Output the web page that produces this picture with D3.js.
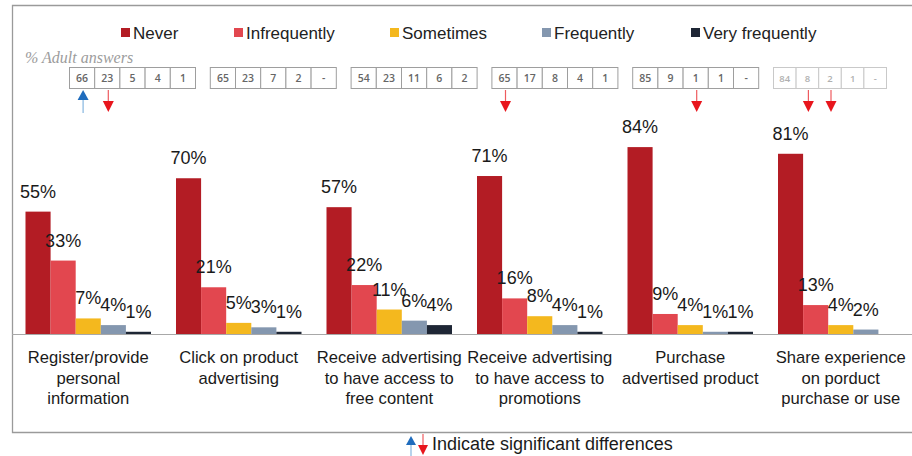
<!DOCTYPE html>
<html><head><meta charset="utf-8">
<script src="https://cdn.jsdelivr.net/npm/d3@7"></script>
<style>
html,body{margin:0;padding:0;background:#fff;}
svg{display:block;font-family:"Liberation Sans",Arial,sans-serif;}
</style></head>
<body><svg id="c" width="912" height="456"></svg>
<script>
const categories = [
  ["Register/provide","personal","information"],
  ["Click on product","advertising"],
  ["Receive advertising","to have access to","free content"],
  ["Receive advertising","to have access to","promotions"],
  ["Purchase","advertised product"],
  ["Share experience","on porduct","purchase or use"]
];
const seriesNames = ["Never","Infrequently","Sometimes","Frequently","Very frequently"];
const never        = [55, 70, 57, 71, 84, 81];
const infrequently = [33, 21, 22, 16, 9, 13];
const sometimes    = [7, 5, 11, 8, 4, 4];
const frequently   = [4, 3, 6, 4, 1, 2];
const veryFreq     = [1, 1, 4, 1, 1, null];
const seriesValues = [never, infrequently, sometimes, frequently, veryFreq];
const colors = ["#B31C24","#E2474F","#F4B81E","#8497AF","#1E2635"];

// Adult answers table
const adultAnswers = [
  ["66","23","5","4","1"],
  ["65","23","7","2","-"],
  ["54","23","11","6","2"],
  ["65","17","8","4","1"],
  ["85","9","1","1","-"],
  ["84","8","2","1","-"]
];
// significant differences: [group, cell, direction]
const sigMarks = [[0,0,"up"],[0,1,"down"],[3,0,"down"],[4,2,"down"],[5,1,"down"],[5,2,"down"]];

const svg = d3.select("#c");
const catIdx = d3.range(categories.length);
const x = d3.scaleBand().domain(catIdx).range([13, 916]).paddingInner(0.1661).paddingOuter(0.083);
const xs = d3.scaleBand().domain(seriesNames).range([0, x.bandwidth()]);
const y = d3.scaleLinear().domain([0, 100]).range([334, 111.5]);

// frame
svg.append("path").attr("d","M912,5.5H12.5V432.5H912").attr("fill","none").attr("stroke","#9a9a9a").attr("stroke-width",1.3);
// baseline axis
const xAxis = d3.axisBottom(x).tickSize(0).tickFormat("");
svg.append("g").attr("transform","translate(0,334)").call(xAxis)
  .call(g=>g.select(".domain").attr("d","M12,0.5H912").attr("stroke","#a8a8a8").attr("stroke-width",1.2));

// legend
const legX = [121, 234, 390, 542, 691];
const leg = svg.append("g");
seriesNames.forEach((s,i)=>{
  const g = leg.append("g").attr("transform",`translate(${legX[i]},0)`);
  g.append("rect").attr("x",0).attr("y",28).attr("width",9).attr("height",9).attr("fill",colors[i]);
  g.append("text").attr("x",12).attr("y",39).attr("font-size",17).attr("fill","#222").text(s);
});

// % Adult answers
svg.append("text").attr("x",25).attr("y",63).attr("font-family","'Liberation Serif','Times New Roman',serif")
  .attr("font-style","italic").attr("font-size",16).attr("fill","#9c9c9c").text("% Adult answers");

// tables
const boxX = d3.scaleLinear().domain([0,5]).range([69, 773]);
adultAnswers.forEach((row,gi)=>{
  const faded = gi === 5;
  const cw = faded ? 22.6 : 25.2;
  const g = svg.append("g").attr("transform",`translate(${boxX(gi)},67)`);
  row.forEach((v,ci)=>{
    g.append("rect").attr("x",ci*cw+0.5).attr("y",0.5).attr("width",cw).attr("height",21)
      .attr("fill","#fff").attr("stroke",faded?"#c9c9c9":"#9e9e9e").attr("stroke-width",1);
    g.append("text").attr("x",ci*cw+cw/2+0.5).attr("y",15).attr("text-anchor","middle")
      .attr("font-family","'Open Sans','DejaVu Sans',sans-serif").attr("font-weight",600)
      .attr("font-size",faded?9.5:10.5).attr("fill",faded?"#b0b0b0":"#666").text(v);
  });
});

// significance arrows
function arrow(g, cx, top, dir){
  if(dir==="up"){
    g.append("line").attr("x1",cx).attr("x2",cx).attr("y1",top+9).attr("y2",top+23).attr("stroke","#86b6e0").attr("stroke-width",1.2);
    g.append("path").attr("d",`M${cx},${top}L${cx+5.5},${top+10}L${cx-5.5},${top+10}Z`).attr("fill","#1f6cbd");
  } else {
    g.append("line").attr("x1",cx).attr("x2",cx).attr("y1",top).attr("y2",top+12).attr("stroke","#ee5b5f").attr("stroke-width",1.2);
    g.append("path").attr("d",`M${cx-5.5},${top+11}L${cx+5.5},${top+11}L${cx},${top+22}Z`).attr("fill","#e8161d");
  }
}
const ag = svg.append("g");
sigMarks.forEach(([gi,ci,dir])=>{
  const faded = gi === 5;
  const cw = faded ? 22.6 : 25.2;
  arrow(ag, boxX(gi)+ci*cw+cw/2+1.5, 90, dir);
});

// bars
const groups = svg.append("g").selectAll("g").data(catIdx).join("g")
  .attr("transform", d=>`translate(${x(d)},0)`);
seriesNames.forEach((s,si)=>{
  groups.each(function(ci){
    const v = seriesValues[si][ci];
    if(v==null) return;
    const g = d3.select(this);
    g.append("rect").attr("x",xs(s)).attr("width",xs.bandwidth()).attr("y",y(v)).attr("height",y(0)-y(v)).attr("fill",colors[si]);
  });
});
seriesNames.forEach((s,si)=>{
  groups.each(function(ci){
    const v = seriesValues[si][ci];
    if(v==null) return;
    d3.select(this).append("text").attr("x",xs(s)+xs.bandwidth()/2).attr("y",y(v)-14)
      .attr("text-anchor","middle").attr("font-size",18).attr("fill","#1a1a1a").text(v+"%");
  });
});

// category labels
groups.each(function(ci){
  const g = d3.select(this);
  categories[ci].forEach((line,li)=>{
    g.append("text").attr("x",x.bandwidth()/2).attr("y",363+li*20.5).attr("text-anchor","middle")
      .attr("font-size",16.6).attr("fill","#1a1a1a").text(line);
  });
});

// bottom note
const ng = svg.append("g");
ng.append("line").attr("x1",411).attr("x2",411).attr("y1",444).attr("y2",456).attr("stroke","#86b6e0").attr("stroke-width",1.2);
ng.append("path").attr("d","M411,436L416,445L406,445Z").attr("fill","#1f6cbd");
ng.append("line").attr("x1",423).attr("x2",423).attr("y1",434).attr("y2",446).attr("stroke","#ee5b5f").attr("stroke-width",1.2);
ng.append("path").attr("d","M418,445L428,445L423,455Z").attr("fill","#e8161d");
ng.append("text").attr("x",432).attr("y",450).attr("font-size",18).attr("fill","#1a1a1a").text("Indicate significant differences");
</script></body></html>
